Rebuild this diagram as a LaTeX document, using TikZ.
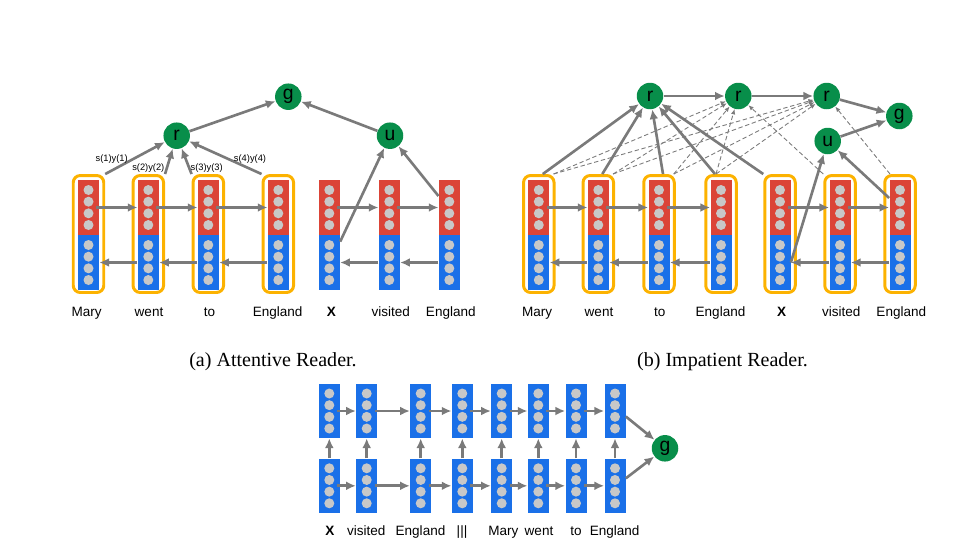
\documentclass[tikz,border=0pt]{standalone}
\usepackage{fontspec}
\setmainfont{Liberation Serif}
\setsansfont{Liberation Sans}
\usetikzlibrary{arrows.meta}

\definecolor{cellred}{RGB}{219,68,55}
\definecolor{cellblue}{RGB}{26,112,232}
\definecolor{stategreen}{RGB}{8,142,74}
\definecolor{attorange}{RGB}{252,178,0}
\definecolor{arrgray}{RGB}{122,122,122}
\definecolor{dotgray}{RGB}{200,200,200}

\begin{document}
\begin{tikzpicture}[x=0.02cm,y=-0.02cm,>={Latex[length=5.5pt,width=5pt]},
  redcell/.style={fill=cellred,minimum width=0.42cm,minimum height=1.1cm,inner sep=0},
  bluecell/.style={fill=cellblue,minimum width=0.42cm,minimum height=1.1cm,inner sep=0},
  attbox/.style={draw=attorange,line width=1.7pt,rounded corners=4pt,
    minimum width=0.61cm,minimum height=2.34cm,inner sep=0},
  state/.style={circle,fill=stategreen,minimum size=0.53cm,inner sep=0,
    font=\sffamily\fontsize{11}{11}\selectfont},
  conn/.style={->,draw=arrgray,line width=1.5pt},
  attn/.style={-{Latex[length=3pt,width=2.5pt]},draw=arrgray,line width=0.5pt,
    dash pattern=on 2.5pt off 1.5pt},
  word/.style={anchor=base,inner sep=0,font=\sffamily\fontsize{7.7}{9}\selectfont},
  weight/.style={font=\sffamily\fontsize{5.3}{6}\selectfont},
  caption/.style={anchor=base,inner sep=0,font=\fontsize{11.4}{13}\selectfont}]
  \useasboundingbox (0,0) rectangle (980,548);

  % (a) Attentive Reader: document, then query.
  \foreach \i/\x in {1/88.5,2/148.3,3/208.3,4/278.3}
    \node[attbox] (aw\i) at (\x,234) {};
  \foreach \i/\x in {1/88.5,2/148.3,3/208.3,4/278.3,5/329.3,6/389.3,7/449.3} {
    \node[redcell] (ar\i) at (\x,207.5) {};
    \node[bluecell] (ab\i) at (\x,262.5) {};
    \foreach \d in {-17.5,-5.83,5.83,17.5} {
      \fill[dotgray] (\x,{207.5+\d}) circle (0.1cm);
      \fill[dotgray] (\x,{262.5+\d}) circle (0.1cm);
    }
  }
  \foreach \i/\j in {1/2,2/3,3/4,5/6,6/7} {
    \draw[conn] ([xshift=-0.06cm]ar\i.east) -- (ar\j.west);
    \draw[conn] (ab\j.west) -- (ab\i.east);
  }
  \node[state] (ar) at (176.7,135.7) {r};
  \node[state] (ag) at (288.3,96.7) {g};
  \node[state] (au) at (390,135.7) {u};
  \draw[conn] (aw1.north east) -- (ar);
  \draw[conn] (aw2.north east) -- (ar);
  \draw[conn] (aw3.north west) -- (ar);
  \draw[conn] (aw4.north west) -- (ar);
  \draw[conn] (ar) -- (ag);
  \draw[conn] (au) -- (ag);
  \draw[conn] ([yshift=-0.14cm]ab5.north east) -- (au);
  \draw[conn] ([yshift=0.23cm]ar7.west) -- (au);
  \node[weight] (as1) at (111.7,159.3) {s(1)y(1)};
  \node[weight] (as2) at (148.3,168.3) {s(2)y(2)};
  \node[weight] (as3) at (206.7,168.3) {s(3)y(3)};
  \node[weight] (as4) at (250,159.3) {s(4)y(4)};
  \foreach \i/\x/\t in {1/86.7/Mary,2/149/went,3/209.5/to,4/277.7/England,
      5/331.3/{\textbf{X}},6/390.8/visited,7/450.8/England}
    \node[word] (at\i) at (\x,316) {\t};
  \node[caption] (capa) at (273,366) {(a) Attentive Reader.};

  % (b) Impatient Reader.
  \foreach \i/\x in {1/538.8,2/598.3,3/659,4/721,5/780,6/840,7/900} {
    \node[attbox] (bw\i) at (\x,234) {};
    \node[redcell] (br\i) at (\x,207.5) {};
    \node[bluecell] (bb\i) at (\x,262.5) {};
    \foreach \d in {-17.5,-5.83,5.83,17.5} {
      \fill[dotgray] (\x,{207.5+\d}) circle (0.1cm);
      \fill[dotgray] (\x,{262.5+\d}) circle (0.1cm);
    }
  }
  \foreach \i/\j in {1/2,2/3,3/4,5/6,6/7} {
    \draw[conn] ([xshift=-0.06cm]br\i.east) -- (br\j.west);
    \draw[conn] (bb\j.west) -- (bb\i.east);
  }
  \node[state] (br) at (650,96) {r};
  \node[state] (brr) at (738.3,96) {r};
  \node[state] (brrr) at (826.7,96) {r};
  \node[state] (bg) at (899.3,116) {g};
  \node[state] (bu) at (827.7,141) {u};
  % dashed: later tokens attend to the document again
  \foreach \i in {1,2,3} {
    \draw[attn] ([xshift=-0.04cm]bw\i.north east) -- (brr);
    \draw[attn] ([xshift=-0.04cm]bw\i.north east) -- (brrr);
  }
  \draw[attn] ([xshift=-0.1cm]bw4.north) -- (brr);
  \draw[attn] ([xshift=-0.1cm]bw4.north) -- (brrr);
  \draw[attn] (bw6.north west) -- (brr);
  \draw[attn] ([xshift=-0.2cm]bw7.north) -- (brrr);
  \draw[conn] ([xshift=0.08cm]bw1.north) -- (br);
  \draw[conn] ([xshift=0.08cm]bw2.north) -- (br);
  \draw[conn] ([xshift=0.08cm]bw3.north) -- (br);
  \draw[conn] ([xshift=-0.12cm]bw4.north) -- (br);
  \draw[conn] (bw5.north west) -- (br);
  \draw[conn] (br) -- (brr);
  \draw[conn] (brr) -- (brrr);
  \draw[conn] (brrr) -- (bg);
  \draw[conn] (bu) -- (bg);
  \draw[conn] (bb5.east) -- (bu);
  \draw[conn] ([yshift=0.19cm]br7.west) -- (bu);
  \foreach \i/\x/\t in {1/537.2/Mary,2/599/went,3/659.7/to,4/720.5/England,
      5/781.7/{\textbf{X}},6/841.3/visited,7/901.3/England}
    \node[word] (bt\i) at (\x,316) {\t};
  \node[caption] (capb) at (722.5,366) {(b) Impatient Reader.};

  % Two-layer deep LSTM reader.
  \foreach \i/\x in {1/329.3,2/366.7,3/420.7,4/462.3,5/501.7,6/538.3,7/576,8/615} {
    \node[bluecell,minimum height=1.08cm] (ct\i) at (\x,411) {};
    \node[bluecell,minimum height=1.08cm] (cb\i) at (\x,485.8) {};
    \foreach \d in {-17.5,-5.83,5.83,17.5} {
      \fill[dotgray] (\x,{411+\d}) circle (0.1cm);
      \fill[dotgray] (\x,{485.8+\d}) circle (0.1cm);
    }
    \draw[conn] (cb\i.north) -- (ct\i.south);
  }
  \foreach \i/\j in {1/2,2/3,3/4,4/5,5/6,6/7,7/8} {
    \draw[conn] ([xshift=-0.06cm]ct\i.east) -- (ct\j.west);
    \draw[conn] ([xshift=-0.06cm]cb\i.east) -- (cb\j.west);
  }
  \node[state] (cg) at (665,448.3) {g};
  \draw[conn] ([yshift=-0.11cm]ct8.east) -- (cg);
  \draw[conn] ([yshift=0.15cm]cb8.east) -- (cg);
  \foreach \i/\x/\t in {1/330/{\textbf{X}},2/366.3/visited,3/420.5/England,4/462/|||,
      5/503.3/Mary,6/539/went,7/576/to,8/614.7/England}
    \node[word] (ct\i w) at (\x,535.7) {\t};
\end{tikzpicture}
\end{document}
